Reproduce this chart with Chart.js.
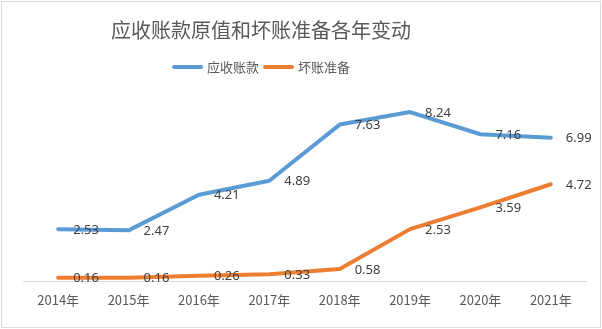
<!DOCTYPE html>
<html lang="zh">
<head>
    <meta charset="UTF-8">
    <title>应收账款原值和坏账准备各年变动</title>
    <script src="https://cdn.jsdelivr.net/npm/chart.js"></script>
    <style>
        html, body { margin: 0; padding: 0; background: #ffffff; }
        #wrap { width: 602px; height: 329px; }
    </style>
</head>
<body>
    <div id="wrap"><canvas id="chart" width="602" height="329"></canvas></div>

    <script>
        // 数据
        const years = ['2014年', '2015年', '2016年', '2017年', '2018年', '2019年', '2020年', '2021年'];
        const receivables = [2.53, 2.47, 4.21, 4.89, 7.63, 8.24, 7.16, 6.99];
        const badDebt = [0.16, 0.16, 0.26, 0.33, 0.58, 2.53, 3.59, 4.72];

        const titleText = '应收账款原值和坏账准备各年变动';
        const fontFamily = '"Noto Sans CJK SC", "Noto Sans", sans-serif';

        // 背景、外框、标题和图例 (标题和图例在 Excel 里偏左, 自己画)
        const frame = {
            id: 'frame',
            beforeDraw(chart) {
                const ctx = chart.ctx;
                ctx.save();
                ctx.fillStyle = '#ffffff';
                ctx.fillRect(0, 0, chart.width, chart.height);
                ctx.strokeStyle = '#d9d9d9';
                ctx.lineWidth = 1;
                ctx.strokeRect(1.5, 1.5, chart.width - 3, chart.height - 3);

                const cx = 261;
                ctx.fillStyle = '#595959';
                ctx.textBaseline = 'middle';
                ctx.textAlign = 'center';
                ctx.font = '20px ' + fontFamily;
                ctx.fillText(titleText, cx, 30);

                // 图例
                ctx.font = '13px ' + fontFamily;
                const items = chart.data.datasets.map(ds => ({
                    text: ds.label,
                    color: ds.borderColor,
                    w: 31 + 4 + ctx.measureText(ds.label).width
                }));
                const gap = 4;
                const total = items.reduce((s, it) => s + it.w, 0) + gap * (items.length - 1);
                let x = cx - total / 2;
                const y = 67;
                ctx.textAlign = 'left';
                items.forEach(it => {
                    ctx.strokeStyle = it.color;
                    ctx.lineWidth = 4;
                    ctx.lineCap = 'round';
                    ctx.beginPath();
                    ctx.moveTo(x + 2, y);
                    ctx.lineTo(x + 29, y);
                    ctx.stroke();
                    ctx.fillStyle = '#595959';
                    ctx.fillText(it.text, x + 35, y);
                    x += it.w + gap;
                });
                ctx.restore();
            }
        };

        // 数据标签 (在点的右侧)
        const valueLabels = {
            id: 'valueLabels',
            afterDatasetsDraw(chart) {
                const ctx = chart.ctx;
                ctx.save();
                ctx.font = '13px "Noto Sans", sans-serif';
                ctx.fillStyle = '#404040';
                ctx.textAlign = 'left';
                ctx.textBaseline = 'middle';
                chart.data.datasets.forEach((ds, i) => {
                    chart.getDatasetMeta(i).data.forEach((pt, j) => {
                        ctx.fillText(ds.data[j].toFixed(2), pt.x + 15, pt.y + 1);
                    });
                });
                ctx.restore();
            }
        };

        new Chart(document.getElementById('chart'), {
            type: 'line',
            data: {
                labels: years,
                datasets: [
                    {
                        label: '应收账款',
                        data: receivables,
                        borderColor: '#5B9BD5',
                        backgroundColor: '#5B9BD5',
                        borderWidth: 4,
                        pointRadius: 0,
                        tension: 0,
                        borderJoinStyle: 'round',
                        borderCapStyle: 'round'
                    },
                    {
                        label: '坏账准备',
                        data: badDebt,
                        borderColor: '#ED7D31',
                        backgroundColor: '#ED7D31',
                        borderWidth: 4,
                        pointRadius: 0,
                        tension: 0,
                        borderJoinStyle: 'round',
                        borderCapStyle: 'round'
                    }
                ]
            },
            options: {
                responsive: false,
                animation: false,
                layout: { padding: { left: 23, right: 16, top: 76, bottom: 0 } },
                plugins: {
                    title: { display: false },
                    legend: { display: false },
                    tooltip: { enabled: false }
                },
                scales: {
                    x: {
                        offset: true,
                        grid: { display: false, drawTicks: false },
                        border: { display: true, color: '#d9d9d9', width: 1 },
                        ticks: {
                            color: '#595959',
                            font: { family: fontFamily, size: 13 },
                            padding: 11,
                            maxRotation: 0
                        },
                        afterFit(scale) { scale.height = 48; }
                    },
                    y: {
                        display: false,
                        min: 0,
                        max: 10
                    }
                }
            },
            plugins: [frame, valueLabels]
        });
    </script>
</body>
</html>
